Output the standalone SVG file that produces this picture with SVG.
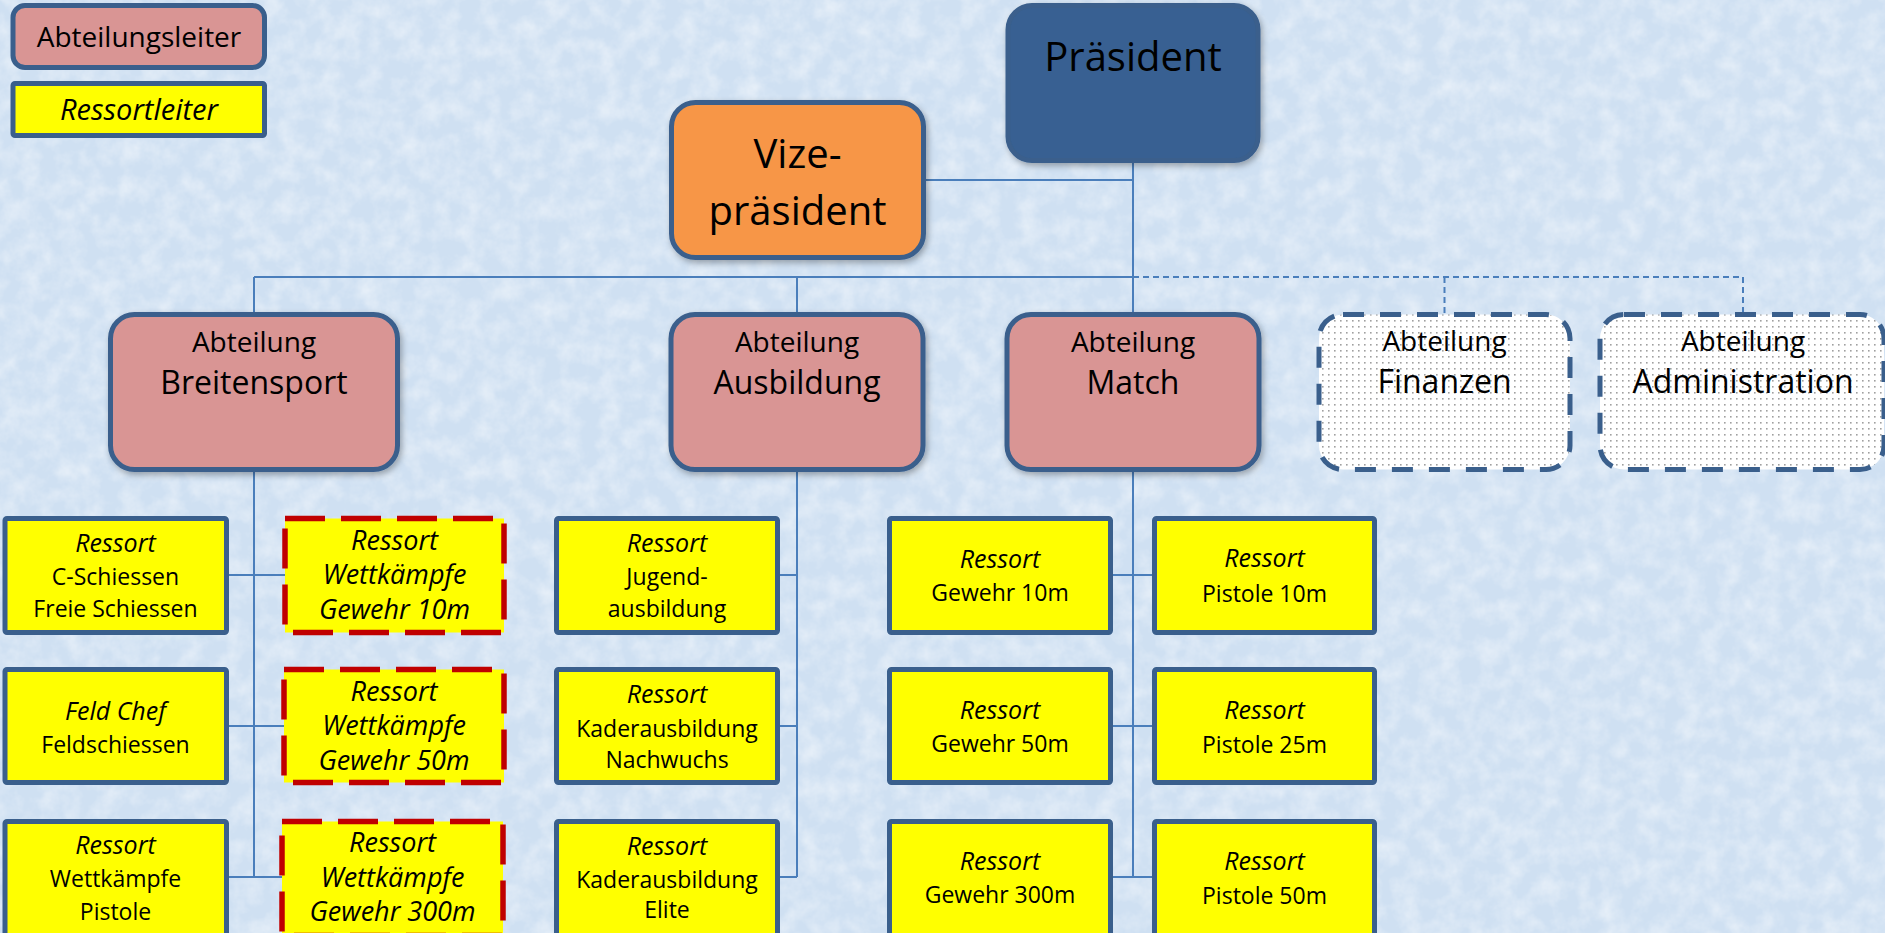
<svg xmlns="http://www.w3.org/2000/svg" width="1885" height="933" viewBox="0 0 1885 933">
<defs>
<filter id="tex" x="0" y="0" width="100%" height="100%">
<feTurbulence type="fractalNoise" baseFrequency="0.05" numOctaves="4" seed="7"/>
<feColorMatrix type="matrix" values="0 0 0 0 1  0 0 0 0 1  0 0 0 0 1  0 0 0 0.8 -0.28"/>
</filter>
<filter id="sh" x="-10%" y="-10%" width="125%" height="130%">
<feDropShadow dx="2" dy="3" stdDeviation="3" flood-color="#000" flood-opacity="0.3"/>
</filter>
<pattern id="dots" width="6" height="6" patternUnits="userSpaceOnUse">
<rect width="6" height="6" fill="#ffffff"/>
<rect x="2" y="2" width="1.6" height="1.6" fill="#a0a0a0"/>
</pattern>
<style>
text{font-family:"Open Sans","Noto Sans","Liberation Sans",sans-serif;fill:#000;text-anchor:middle}
.big{font-size:40px}
.d1{font-size:28px}
.d2{font-size:32px}
.r{font-size:23px}
.it{font-style:italic;font-size:25px}
.lit{font-style:italic;font-size:29px}
.rr{font-size:27px;font-style:italic}
.dept{fill:#d99594;stroke:#3a5f8c;stroke-width:5}
.ress{fill:#ffff00;stroke:#3a5f8c;stroke-width:5}
.red{fill:#ffff00;stroke:#c00000;stroke-width:5.5;stroke-dasharray:40 16}
.opt{fill:url(#dots);stroke:#3a5f8c;stroke-width:5;stroke-dasharray:21 16}
.ln{fill:none;stroke:#4a7ebb;stroke-width:2}
.dl{fill:none;stroke:#4a7ebb;stroke-width:2;stroke-dasharray:6 4}
</style>
</defs>
<rect width="1885" height="933" fill="#cfe0f2"/>
<rect width="1885" height="933" filter="url(#tex)"/>

<g id="connectors">
<path class="ln" d="M1133 160 V314.5 M923.5 180 H1133 M254 277 H1133 M254 277 V314.5 M797 277 V314.5"/>
<path class="dl" d="M1133 277 H1743 M1444.5 277 V314.5 M1743 277 V314.5"/>
<path class="ln" d="M254 469.5 V877 M226.5 575 H285 M226.5 726 H285 M226.5 877 H285"/>
<path class="ln" d="M797 469.5 V877 M777.5 575 H797 M777.5 726 H797 M777.5 877 H797"/>
<path class="ln" d="M1133 469.5 V877 M1110.5 575 H1154.5 M1110.5 726 H1154.5 M1110.5 877 H1154.5"/>
</g>

<g id="legend-abteilungsleiter">
<rect class="dept" x="13" y="5.5" width="251.5" height="62" rx="12"/>
<text class="d1" x="139" y="47">Abteilungsleiter</text>
</g>
<g id="legend-ressortleiter">
<rect class="ress" x="13" y="83.5" width="251.5" height="52" rx="2"/>
<text class="lit" x="139" y="120">Ressortleiter</text>
</g>

<g id="praesident">
<rect x="1008" y="5.5" width="250" height="155" rx="24" fill="#376092" stroke="#3a5f8c" stroke-width="5" filter="url(#sh)"/>
<text class="big" x="1133" y="71">Präsident</text>
</g>
<g id="vizepraesident">
<rect x="671.5" y="102.5" width="252" height="155" rx="24" fill="#f79646" stroke="#3a5f8c" stroke-width="5" filter="url(#sh)"/>
<text class="big" x="797.5" y="168">Vize-</text>
<text class="big" x="797.5" y="225">präsident</text>
</g>

<g id="abt-breitensport">
<rect class="dept" x="110.5" y="314.5" width="287" height="155" rx="24" filter="url(#sh)"/>
<text class="d1" x="254" y="352">Abteilung</text>
<text class="d2" x="254" y="394">Breitensport</text>
</g>
<g id="abt-ausbildung">
<rect class="dept" x="671" y="314.5" width="252" height="155" rx="24" filter="url(#sh)"/>
<text class="d1" x="797" y="352">Abteilung</text>
<text class="d2" x="797" y="394">Ausbildung</text>
</g>
<g id="abt-match">
<rect class="dept" x="1007" y="314.5" width="252" height="155" rx="24" filter="url(#sh)"/>
<text class="d1" x="1133" y="352">Abteilung</text>
<text class="d2" x="1133" y="394">Match</text>
</g>
<g id="abt-finanzen">
<rect class="opt" x="1319" y="314.5" width="251" height="155" rx="24"/>
<text class="d1" x="1444.5" y="351">Abteilung</text>
<text class="d2" x="1444.5" y="393">Finanzen</text>
</g>
<g id="abt-administration">
<rect class="opt" x="1600" y="314.5" width="284" height="155" rx="24"/>
<text class="d1" x="1743" y="351">Abteilung</text>
<text class="d2" x="1743" y="393">Administration</text>
</g>

<g id="r-c-schiessen">
<rect class="ress" x="5" y="518.5" width="221.5" height="114" rx="2"/>
<text class="it" x="115.5" y="552">Ressort</text>
<text class="r" x="115.5" y="585">C-Schiessen</text>
<text class="r" x="115.5" y="617">Freie Schiessen</text>
</g>
<g id="r-feldschiessen">
<rect class="ress" x="5" y="669.5" width="221.5" height="113" rx="2"/>
<text class="it" x="115.5" y="720">Feld Chef</text>
<text class="r" x="115.5" y="753">Feldschiessen</text>
</g>
<g id="r-wk-pistole">
<rect class="ress" x="5" y="821.5" width="221.5" height="114" rx="2"/>
<text class="it" x="115.5" y="854">Ressort</text>
<text class="r" x="115.5" y="887">Wettkämpfe</text>
<text class="r" x="115.5" y="920">Pistole</text>
</g>
<g id="r-wk-gewehr10">
<rect class="red" x="285" y="518.5" width="219" height="114"/>
<text class="rr" x="394.5" y="550">Ressort</text>
<text class="rr" x="394.5" y="584">Wettkämpfe</text>
<text class="rr" x="394.5" y="619">Gewehr 10m</text>
</g>
<g id="r-wk-gewehr50">
<rect class="red" x="284" y="669.5" width="220" height="113"/>
<text class="rr" x="394" y="701">Ressort</text>
<text class="rr" x="394" y="735">Wettkämpfe</text>
<text class="rr" x="394" y="770">Gewehr 50m</text>
</g>
<g id="r-wk-gewehr300">
<rect class="red" x="282" y="821.5" width="221" height="114"/>
<text class="rr" x="392.5" y="852">Ressort</text>
<text class="rr" x="392.5" y="887">Wettkämpfe</text>
<text class="rr" x="392.5" y="921">Gewehr 300m</text>
</g>

<g id="r-jugend">
<rect class="ress" x="556.5" y="518.5" width="221" height="114" rx="2"/>
<text class="it" x="667" y="552">Ressort</text>
<text class="r" x="667" y="585">Jugend-</text>
<text class="r" x="667" y="617">ausbildung</text>
</g>
<g id="r-kader-nachwuchs">
<rect class="ress" x="556.5" y="669.5" width="221" height="113" rx="2"/>
<text class="it" x="667" y="703">Ressort</text>
<text class="r" x="667" y="737">Kaderausbildung</text>
<text class="r" x="667" y="768">Nachwuchs</text>
</g>
<g id="r-kader-elite">
<rect class="ress" x="556.5" y="821.5" width="221" height="114" rx="2"/>
<text class="it" x="667" y="855">Ressort</text>
<text class="r" x="667" y="888">Kaderausbildung</text>
<text class="r" x="667" y="918">Elite</text>
</g>

<g id="r-gewehr10">
<rect class="ress" x="889.5" y="518.5" width="221" height="114" rx="2"/>
<text class="it" x="1000" y="568">Ressort</text>
<text class="r" x="1000" y="601">Gewehr 10m</text>
</g>
<g id="r-gewehr50">
<rect class="ress" x="889.5" y="669.5" width="221" height="113" rx="2"/>
<text class="it" x="1000" y="719">Ressort</text>
<text class="r" x="1000" y="752">Gewehr 50m</text>
</g>
<g id="r-gewehr300">
<rect class="ress" x="889.5" y="821.5" width="221" height="114" rx="2"/>
<text class="it" x="1000" y="870">Ressort</text>
<text class="r" x="1000" y="903">Gewehr 300m</text>
</g>
<g id="r-pistole10">
<rect class="ress" x="1154.5" y="518.5" width="220" height="114" rx="2"/>
<text class="it" x="1264.5" y="567">Ressort</text>
<text class="r" x="1264.5" y="602">Pistole 10m</text>
</g>
<g id="r-pistole25">
<rect class="ress" x="1154.5" y="669.5" width="220" height="113" rx="2"/>
<text class="it" x="1264.5" y="719">Ressort</text>
<text class="r" x="1264.5" y="753">Pistole 25m</text>
</g>
<g id="r-pistole50">
<rect class="ress" x="1154.5" y="821.5" width="220" height="114" rx="2"/>
<text class="it" x="1264.5" y="870">Ressort</text>
<text class="r" x="1264.5" y="904">Pistole 50m</text>
</g>
</svg>
